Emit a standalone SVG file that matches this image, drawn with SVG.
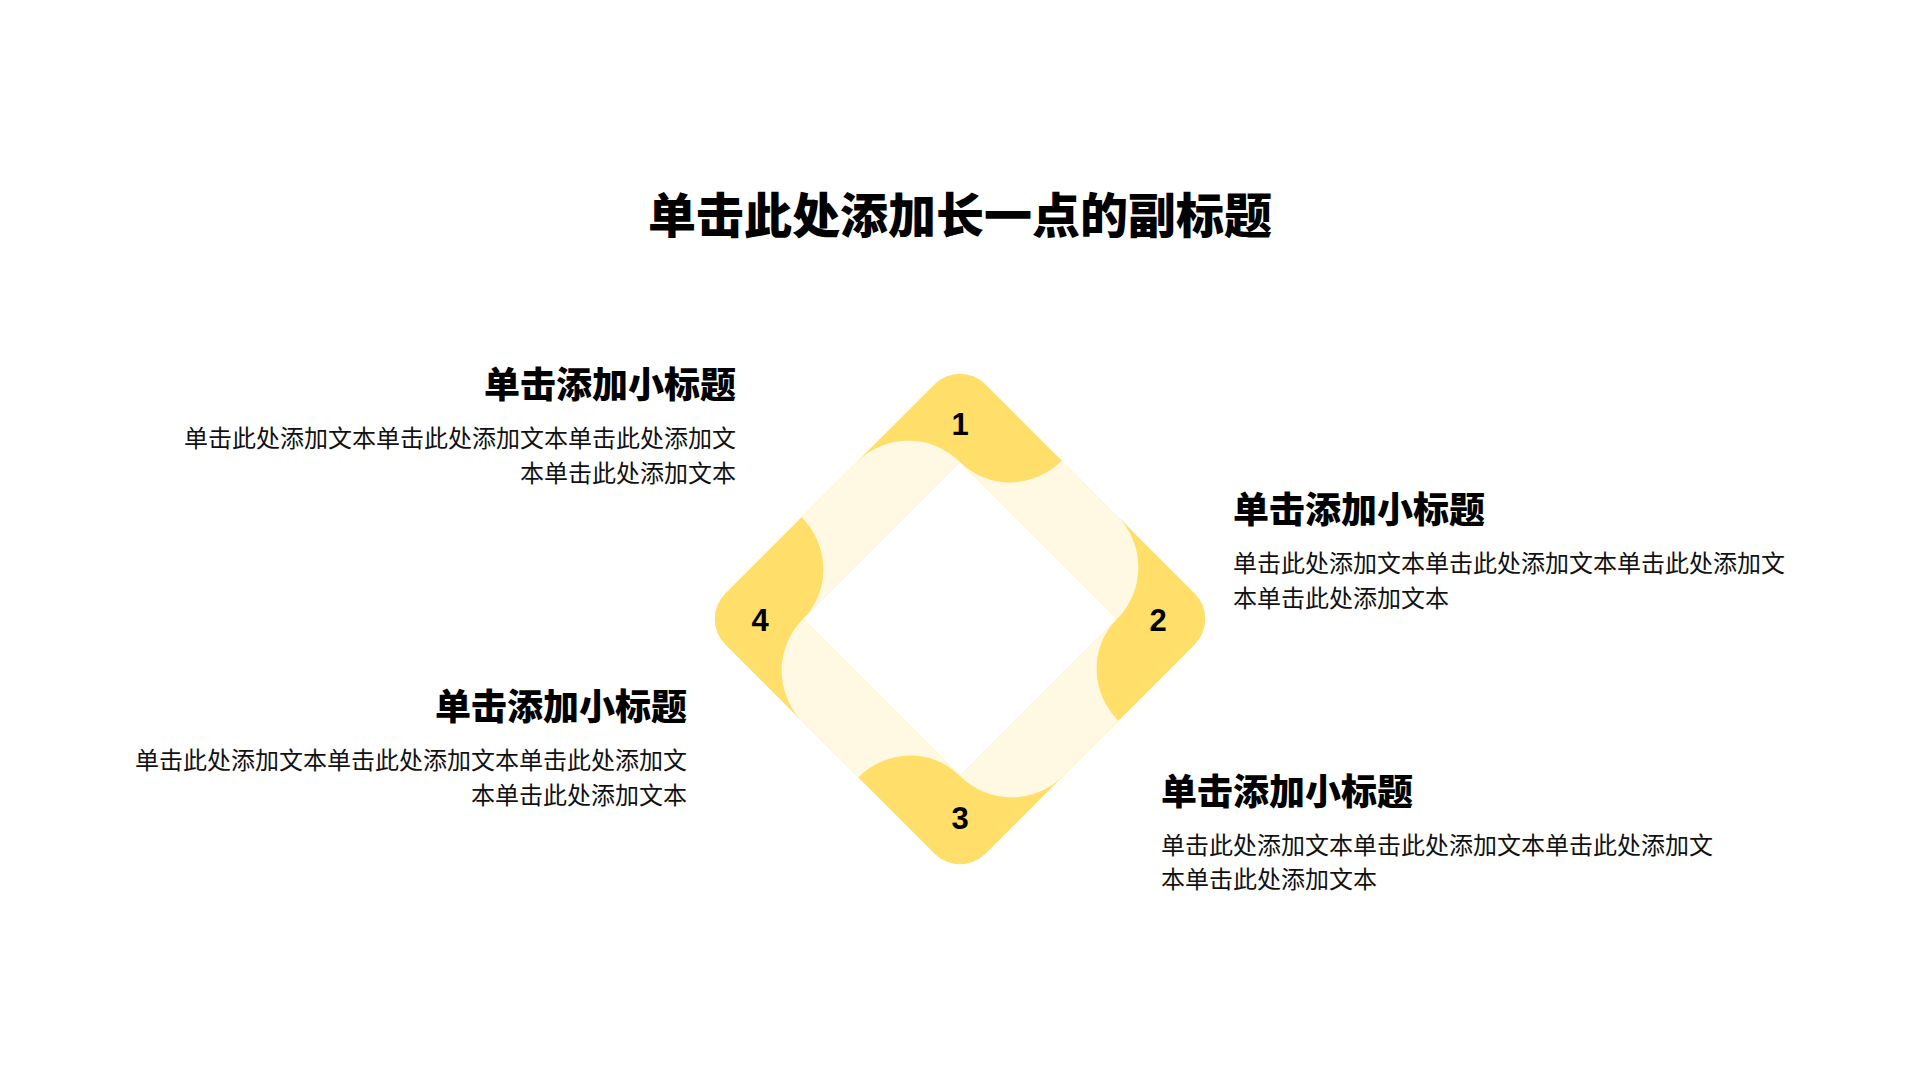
<svg xmlns="http://www.w3.org/2000/svg" width="1920" height="1080" viewBox="0 0 1920 1080">
  <style>
    .title { font-family: "Noto Sans CJK SC", "Liberation Sans", sans-serif; font-weight: 900; font-size: 48px; fill: #000; }
    .sub { font-family: "Noto Sans CJK SC", "Liberation Sans", sans-serif; font-weight: 900; font-size: 36px; fill: #000; }
    .body { font-family: "Noto Sans CJK SC", "Liberation Sans", sans-serif; font-weight: 400; font-size: 24px; fill: #111; }
    .num { font-family: "Liberation Sans", Arial, sans-serif; font-weight: 700; font-size: 31px; fill: #000; text-anchor: middle; }
    .yellow { fill: #FFDF69; }
    .cream { fill: #FFF9E4; }
    .r { text-anchor: end; }
    .l { text-anchor: start; }
  </style>
  <rect width="1920" height="1080" fill="#FFFFFF"/>

  <g id="title">
    <text class="title" x="960" y="233" text-anchor="middle">单击此处添加长一点的副标题</text>
  </g>

  <g id="diamond" transform="translate(960,619) rotate(45)">
    <rect class="yellow" x="-184" y="-184" width="368" height="368" rx="36" ry="36"/>
    <rect x="-111" y="-111" width="222" height="222" fill="#FFFFFF"/>
    <path class="cream" d="M -40,-184 L 38,-184 A 73 73 0 0 1 111,-111 L -111,-111 A 71 73 0 0 0 -40,-184 Z"/>
    <path class="cream" d="M 184,-40 L 184,38 A 73 73 0 0 1 111,111 L 111,-111 A 73 71 0 0 0 184,-40 Z"/>
    <path class="cream" d="M 40,184 L -38,184 A 73 73 0 0 1 -111,111 L 111,111 A 71 73 0 0 0 40,184 Z"/>
    <path class="cream" d="M -184,40 L -184,-38 A 73 73 0 0 1 -111,-111 L -111,111 A 73 71 0 0 0 -184,40 Z"/>
  </g>

  <g id="connectors"/>

  <g id="step1">
    <text class="num" x="960" y="435">1</text>
    <text class="sub r" x="736" y="398">单击添加小标题</text>
    <text class="body r" x="736" y="447">单击此处添加文本单击此处添加文本单击此处添加文</text>
    <text class="body r" x="736" y="482">本单击此处添加文本</text>
  </g>

  <g id="step2">
    <text class="num" x="1158" y="631">2</text>
    <text class="sub l" x="1233" y="523">单击添加小标题</text>
    <text class="body l" x="1233" y="572">单击此处添加文本单击此处添加文本单击此处添加文</text>
    <text class="body l" x="1233" y="607">本单击此处添加文本</text>
  </g>

  <g id="step3">
    <text class="num" x="960" y="829">3</text>
    <text class="sub l" x="1161" y="805">单击添加小标题</text>
    <text class="body l" x="1161" y="854">单击此处添加文本单击此处添加文本单击此处添加文</text>
    <text class="body l" x="1161" y="888">本单击此处添加文本</text>
  </g>

  <g id="step4">
    <text class="num" x="760" y="631">4</text>
    <text class="sub r" x="687" y="720">单击添加小标题</text>
    <text class="body r" x="687" y="769">单击此处添加文本单击此处添加文本单击此处添加文</text>
    <text class="body r" x="687" y="804">本单击此处添加文本</text>
  </g>
</svg>
